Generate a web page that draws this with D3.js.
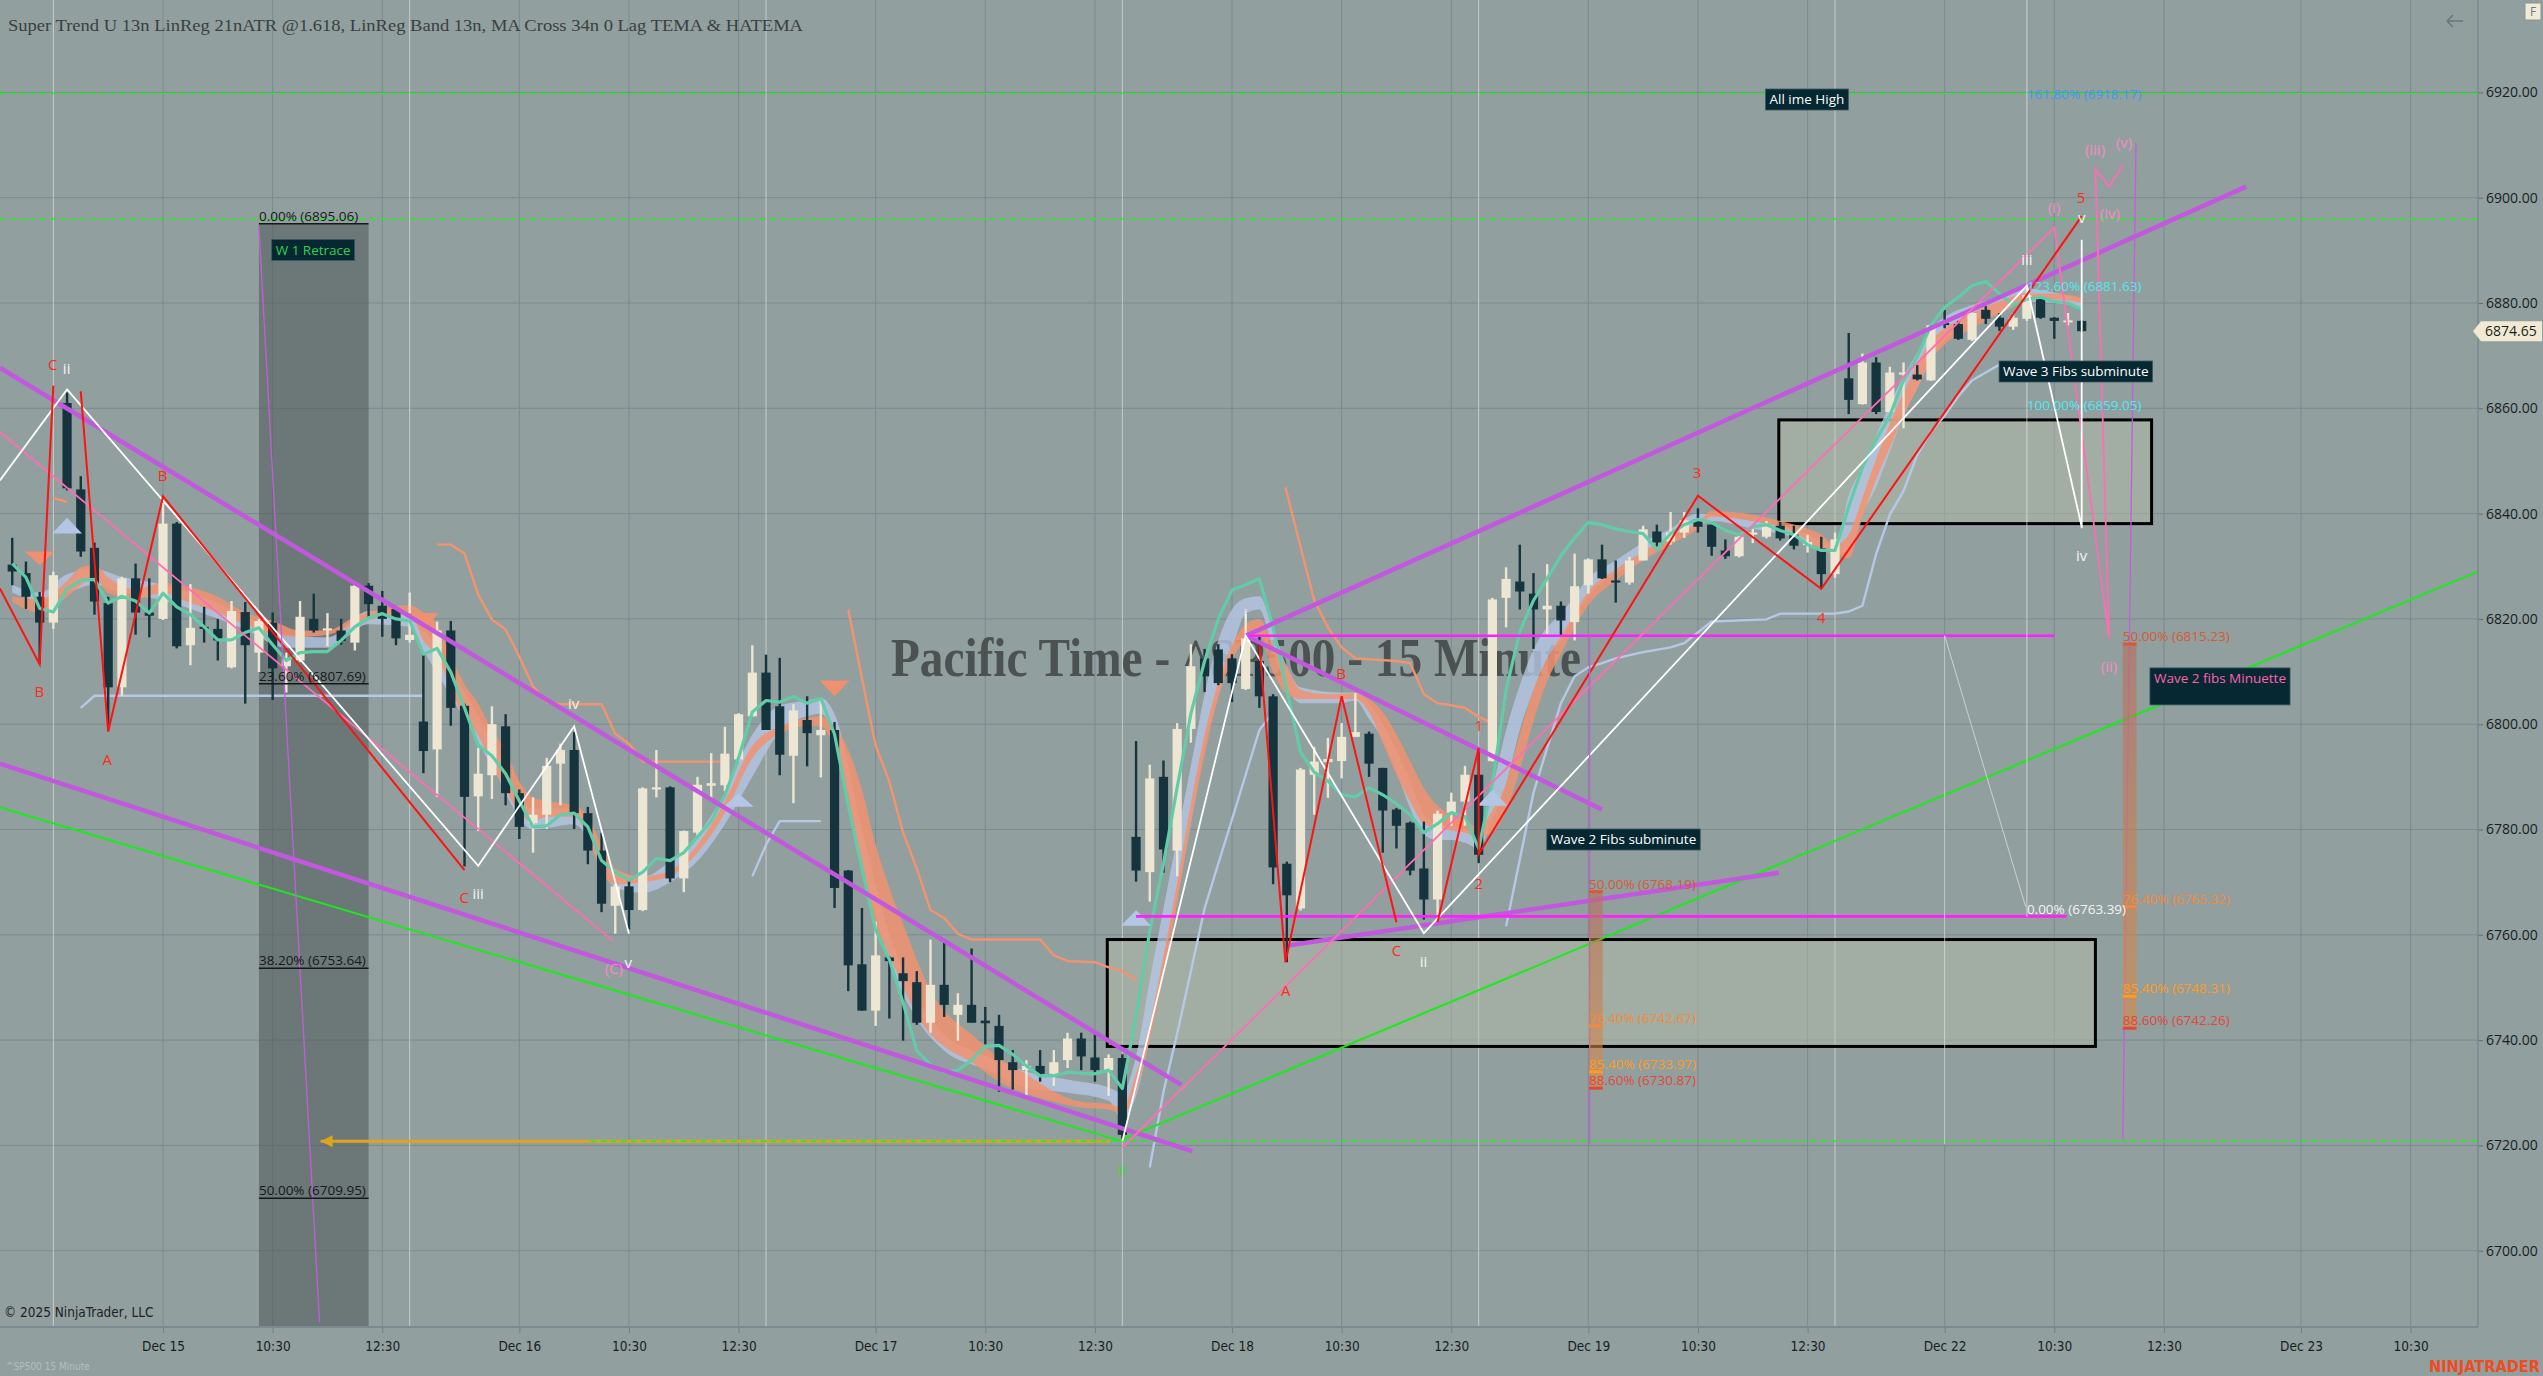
<!DOCTYPE html>
<html>
<head>
<meta charset="utf-8">
<title>^SP500 15 Minute</title>
<script src="https://cdn.jsdelivr.net/npm/d3@7"></script>
<style>
  html, body { margin: 0; padding: 0; background: #919f9e; overflow: hidden; }
  svg { display: block; }
</style>
</head>
<body>
<svg id="chart" width="2543" height="1376"></svg>
<script>
// ---- data ----
const firstBar = -11; // bar index of the first candle; Dec 15 label sits on bar 0
const opens = [6830.3,6828.7,6824.2,6819.3,6861.0,6844.6,6833.5,6823.0,6807.0,6827.7,6821.2,
  6820.0,6838.1,6815.0,6818.5,6818.1,6810.8,6821.3,6813.6,6819.3,6811.0,
  6812.1,6820.0,6817.8,6817.8,6815.5,6826.3,6822.5,6821.9,6816.0,6800.5,
  6795.2,6817.8,6803.5,6786.3,6790.3,6799.6,6786.9,6781.2,6782.8,6792.5,
  6795.1,6783.1,6776.0,6765.5,6769.2,6764.7,6787.6,6788.0,6770.7,6779.4,
  6788.3,6788.4,6793.3,6801.5,6809.8,6803.4,6794.0,6800.8,6797.9,6798.9,
  6772.2,6754.4,6745.6,6755.7,6752.7,6751.0,6743.3,6750.5,6744.8,6746.7,
  6743.7,6742.7,6735.8,6734.3,6735.1,6733.6,6736.2,6740.3,6736.7,6734.3,
  6736.6,6778.6,6771.9,6790.0,6776.0,6799.1,6812.5,6814.2,6812.5,6806.7,
  6812.0,6805.3,6773.5,6765.0,6790.4,6792.8,6793.0,6797.6,6798.2,6791.7,
  6783.8,6781.3,6772.6,6766.7,6783.2,6785.3,6790.4,6793.0,6824.0,6827.1,
  6824.8,6821.8,6822.5,6819.4,6826.4,6831.3,6827.3,6826.9,6831.1,6836.6,
  6834.7,6836.4,6838.9,6837.9,6833.0,6831.9,6836.0,6835.6,6837.7,6836.0,
  6834.0,6833.4,6828.5,6865.7,6860.8,6868.7,6859.3,6866.4,6866.4,6865.3,
  6876.2,6876.0,6873.0,6878.7,6877.2,6875.5,6877.0,6881.1,6877.2,6876.4,
  6876.6];
const highs = [6835.4,6830.9,6825.1,6829.0,6863.0,6847.1,6834.5,6824.2,6828.0,6830.5,6827.7,
  6842.0,6838.4,6826.6,6822.3,6820.0,6823.4,6823.2,6820.0,6821.2,6813.6,
  6823.4,6824.8,6821.1,6820.0,6827.0,6826.8,6825.3,6822.3,6825.0,6813.6,
  6819.5,6819.6,6803.9,6795.5,6803.4,6801.9,6787.6,6786.1,6793.6,6796.3,
  6798.5,6784.3,6779.4,6769.6,6770.7,6788.0,6795.1,6788.2,6779.8,6790.0,
  6794.5,6799.5,6802.1,6815.0,6813.2,6812.6,6803.8,6805.3,6804.9,6800.4,
  6772.3,6765.1,6762.5,6755.9,6755.7,6753.1,6759.1,6758.7,6748.9,6757.4,
  6746.3,6744.8,6738.1,6736.2,6738.1,6738.1,6741.4,6741.4,6741.4,6737.3,
  6737.3,6796.8,6792.3,6793.1,6800.2,6815.2,6814.3,6815.2,6813.3,6820.9,
  6816.8,6805.7,6773.9,6791.7,6795.7,6797.4,6800.2,6805.9,6798.6,6791.7,
  6784.1,6781.5,6781.5,6783.6,6787.0,6792.1,6795.1,6824.0,6829.8,6834.1,
  6828.7,6830.4,6823.3,6832.4,6831.5,6834.1,6831.1,6831.8,6837.7,6837.9,
  6840.3,6840.3,6841.0,6837.9,6835.1,6836.0,6837.1,6838.6,6838.4,6837.7,
  6836.0,6835.6,6836.4,6874.3,6870.4,6869.7,6867.9,6868.7,6868.2,6876.0,
  6878.7,6876.6,6878.2,6879.4,6878.1,6878.1,6883.7,6881.2,6877.3,6878.1,
  6876.7];
const lows = [6826.4,6821.9,6811.5,6818.1,6844.4,6831.8,6820.8,6799.0,6805.4,6817.0,6816.5,
  6819.8,6814.4,6811.2,6815.5,6812.1,6810.6,6803.9,6809.9,6804.6,6806.0,
  6811.8,6817.4,6814.8,6815.1,6814.0,6820.4,6816.6,6815.0,6815.5,6790.7,
  6786.2,6799.7,6773.0,6779.7,6785.8,6784.6,6778.2,6775.6,6780.1,6784.6,
  6780.1,6773.4,6764.3,6760.2,6761.0,6764.5,6786.1,6770.0,6768.1,6778.6,
  6785.8,6787.3,6792.9,6801.5,6798.9,6790.3,6785.0,6792.0,6789.9,6765.1,
  6749.3,6745.6,6742.7,6744.1,6739.9,6742.9,6741.4,6744.4,6739.9,6743.3,
  6739.2,6730.2,6730.6,6729.4,6732.1,6731.3,6734.7,6734.3,6732.1,6729.4,
  6720.8,6770.1,6766.3,6771.8,6771.1,6796.5,6806.1,6807.4,6804.2,6806.5,
  6803.1,6769.6,6754.8,6764.6,6782.8,6786.0,6789.7,6797.6,6790.0,6775.6,
  6776.4,6771.3,6762.9,6763.7,6780.7,6780.7,6773.6,6792.9,6818.4,6821.8,
  6814.3,6817.1,6816.7,6815.9,6824.8,6827.6,6823.1,6826.5,6831.1,6833.2,
  6834.1,6835.4,6836.4,6832.0,6831.4,6831.7,6834.4,6835.3,6834.9,6833.2,
  6832.6,6825.9,6827.8,6858.9,6860.7,6858.9,6859.2,6856.2,6865.3,6865.2,
  6875.2,6873.0,6872.8,6876.0,6874.7,6874.9,6876.6,6877.0,6873.2,6875.7,
  6874.5];
const closes = [6829.0,6824.2,6819.3,6828.3,6844.8,6832.8,6823.3,6807.0,6827.7,6821.2,6820.6,
  6838.1,6814.8,6818.3,6818.1,6815.9,6821.5,6815.0,6819.6,6810.6,6812.5,
  6820.4,6817.8,6818.2,6815.8,6826.3,6822.8,6820.0,6816.3,6817.0,6794.9,
  6817.8,6803.1,6786.2,6790.6,6800.0,6786.9,6780.5,6782.8,6792.1,6795.1,
  6783.1,6776.0,6765.9,6769.2,6764.7,6787.8,6788.0,6770.7,6779.7,6788.5,
  6788.8,6794.4,6801.9,6809.8,6798.9,6794.2,6802.6,6798.3,6798.9,6768.9,
  6754.2,6745.6,6756.1,6755.0,6751.2,6743.3,6750.5,6746.7,6746.7,6743.3,
  6743.2,6736.2,6734.3,6735.1,6733.6,6735.8,6740.3,6736.9,6734.3,6736.6,
  6722.0,6772.2,6789.7,6776.2,6799.1,6811.0,6809.1,6807.8,6807.8,6816.3,
  6805.3,6772.8,6767.5,6791.4,6792.9,6793.4,6797.6,6798.5,6792.5,6783.6,
  6780.7,6772.2,6766.7,6783.0,6785.3,6790.4,6775.2,6823.7,6827.6,6825.2,
  6821.8,6822.5,6819.7,6826.2,6831.3,6827.7,6826.9,6831.1,6837.0,6834.5,
  6836.4,6838.7,6837.5,6833.7,6831.9,6835.6,6836.4,6837.5,6835.3,6833.9,
  6834.6,6828.5,6835.1,6861.6,6868.7,6859.3,6866.8,6866.8,6865.5,6875.8,
  6875.8,6873.2,6878.1,6877.0,6875.5,6877.2,6881.5,6877.2,6876.6,6876.7,
  6874.65];
// MA line (teal), one value per candle
const maLine = [6830.5,6827.9,6822.0,6821.3,6825.7,6827.3,6827.5,6823.0,6824.3,6823.4,6821.1,
  6824.9,6822.3,6820.8,6818.5,6816.0,6816.0,6817.4,6818.3,6815.1,6812.1,
  6813.6,6813.8,6813.8,6815.9,6818.5,6820.2,6821.0,6820.0,6819.6,6813.3,
  6814.4,6809.9,6803.1,6796.0,6794.0,6790.6,6785.4,6780.5,6780.7,6782.8,
  6783.1,6780.5,6774.1,6771.9,6770.4,6771.9,6774.5,6774.1,6775.6,6778.6,
  6781.6,6786.5,6793.6,6802.3,6804.5,6804.2,6805.3,6804.0,6804.9,6798.1,
  6784.6,6772.6,6760.9,6755.3,6747.1,6738.0,6735.4,6733.9,6734.3,6736.2,
  6738.8,6739.0,6737.3,6735.1,6733.2,6733.2,6733.9,6733.7,6733.6,6734.3,
  6730.8,6744.6,6760.7,6773.5,6788.0,6802.0,6812.0,6820.0,6825.5,6826.5,
  6827.6,6818.4,6806.5,6794.7,6790.9,6789.2,6786.6,6786.2,6787.9,6786.6,
  6784.9,6782.8,6779.4,6781.1,6783.2,6782.4,6776.4,6788.7,6806.5,6817.6,
  6823.5,6827.7,6832.0,6835.4,6838.3,6837.9,6837.1,6836.6,6836.2,6833.2,
  6836.2,6837.9,6838.9,6838.3,6836.8,6836.0,6837.5,6837.9,6836.8,6836.0,
  6834.1,6833.0,6833.0,6841.3,6848.8,6854.0,6858.6,6865.3,6869.8,6875.8,
  6879.2,6881.1,6883.3,6884.1,6881.8,6879.6,6880.7,6881.1,6880.3,6880.0,
  6878.8];
// LinReg band [bar, upper, lower]
const linRegBand = [[-11,6826.5,6825.0],[-9,6825.0,6823.5],[-7,6828.5,6825.0],[-5,6829.5,6826.5],[-3,6828.0,6825.0],
  [0,6826.5,6823.5],[3,6824.0,6821.0],[6,6820.5,6818.0],[9,6817.0,6814.5],[12,6816.5,6814.5],[15,6821.5,6819.0],
  [18,6821.0,6818.5],[19,6818.0,6814.0],[22,6806.0,6801.0],[24,6797.0,6792.0],[27,6784.0,6780.0],[30,6784.0,6781.0],
  [33,6772.0,6769.0],[35,6771.0,6768.0],[37,6774.0,6770.0],[39,6779.0,6774.0],[41,6787.0,6781.0],[43,6798.0,6790.0],
  [45,6803.5,6798.5],[47,6804.5,6801.5],[48,6805.0,6802.0],[49,6802.0,6798.0],[51,6780.0,6774.0],[53,6760.0,6755.0],
  [55,6748.0,6744.0],[57,6741.0,6738.0],[60,6737.0,6734.5],[63,6734.0,6731.0],[66,6732.5,6730.0],[69,6731.0,6728.5],
  [70,6730.0,6725.0],[71,6737.0,6729.4],[72,6751.4,6740.4],[73,6765.0,6754.8],[74,6778.6,6767.5],[75,6792.1,6781.1],
  [76,6805.7,6795.5],[77,6815.9,6805.7],[78,6821.8,6814.2],[79,6823.9,6821.0],[80,6824.3,6821.8],[81,6818.0,6814.0],
  [82,6811.0,6807.0],[83,6807.0,6804.0],[86,6806.0,6804.0],[87,6806.0,6804.5],[88,6804.0,6801.0],[89,6800.0,6797.0],
  [90,6795.0,6791.0],[91,6789.0,6784.0],[92,6783.0,6779.0],[93,6781.0,6778.0],[94,6780.5,6778.0],[95,6780.0,6777.5],
  [96,6779.0,6776.5],[97,6787.9,6781.9],[98,6798.9,6788.7],[99,6807.4,6798.9],[100,6814.2,6806.5],[101,6818.4,6812.5],
  [102,6821.0,6815.9],[103,6824.3,6820.1],[104,6827.7,6824.3],[106,6831.1,6828.6],[108,6834.5,6831.1],[110,6837.1,6835.4],
  [112,6840.0,6837.5],[113,6839.8,6838.6],[116,6838.6,6837.1],[119,6837.0,6835.5],[121,6834.9,6833.4],[122,6833.8,6832.3],
  [123,6843.5,6833.0],[124,6848.8,6839.8],[125,6854.8,6845.0],[126,6860.8,6851.8],[127,6866.1,6858.6],[128,6870.6,6863.8],
  [129,6875.1,6869.1],[130,6877.3,6872.8],[132,6879.6,6876.6],[134,6881.1,6878.1],[136,6882.7,6880.3],[138,6882.0,6880.0],
  [140,6880.7,6879.2]];
// TEMA / HATEMA cloud [bar, upper, lower]
const temaCloud = [[-11,6824.2,6823.2],[-9,6823.8,6821.2],[-7,6827.2,6824.2],[-6,6829.8,6826.4],[-5,6830.3,6827.9],
  [-4,6827.9,6824.9],[-2,6825.6,6823.8],[0,6826.8,6824.9],[2,6826.0,6823.0],[4,6824.2,6821.2],[6,6821.2,6818.9],
  [8,6819.6,6817.0],[10,6817.8,6816.6],[12,6817.8,6817.0],[14,6820.4,6818.9],[16,6821.9,6820.4],[18,6822.6,6821.2],
  [19,6821.2,6815.9],[20,6818.9,6812.9],[21,6812.9,6806.9],[22,6807.6,6800.9],[23,6803.9,6797.9],[24,6798.9,6792.1],
  [25,6795.1,6787.6],[26,6789.1,6783.1],[27,6786.1,6781.6],[28,6785.4,6782.4],[30,6784.6,6782.4],[31,6782.4,6778.6],
  [32,6777.1,6771.9],[33,6772.6,6769.6],[35,6771.1,6770.0],[37,6772.2,6771.1],[39,6777.1,6775.6],[41,6785.4,6783.1],
  [43,6795.9,6793.6],[45,6799.6,6798.2],[47,6801.2,6799.6],[48,6801.5,6799.6],[49,6799.6,6795.1],[50,6795.1,6786.1],
  [51,6787.6,6772.6],[52,6777.1,6762.1],[53,6768.9,6756.1],[54,6762.1,6750.1],[55,6755.3,6744.8],[56,6749.3,6741.1],
  [57,6745.6,6738.8],[59,6741.1,6735.8],[61,6736.6,6732.1],[63,6733.5,6729.8],[65,6730.2,6728.3],[67,6728.3,6727.2],
  [69,6727.9,6726.8],[70,6727.2,6726.0],[71,6733.6,6730.2],[72,6743.0,6740.0],[73,6756.0,6752.0],[74,6770.0,6766.0],
  [75,6785.0,6781.0],[76,6798.0,6794.0],[77,6808.0,6805.0],[78,6815.0,6812.0],[79,6819.0,6816.0],[80,6820.0,6817.0],
  [81,6815.0,6809.9],[82,6810.8,6805.7],[83,6806.5,6804.8],[85,6805.7,6804.8],[87,6805.9,6804.8],[88,6804.8,6802.3],
  [89,6802.3,6796.4],[90,6798.1,6790.4],[91,6793.0,6785.3],[92,6787.9,6781.1],[93,6784.5,6780.3],[94,6782.8,6779.8],
  [95,6781.9,6779.4],[96,6780.3,6778.6],[97,6783.6,6779.4],[98,6788.7,6783.6],[99,6798.1,6791.3],[100,6806.5,6800.6],
  [101,6812.5,6808.2],[102,6816.7,6813.3],[103,6821.0,6818.4],[104,6825.2,6822.6],[106,6829.4,6827.3],[108,6832.8,6831.1],
  [110,6835.8,6834.1],[112,6838.3,6837.1],[113,6840.5,6839.4],[116,6839.8,6838.6],[118,6838.6,6837.5],[120,6837.1,6834.9],
  [121,6836.0,6833.0],[122,6834.1,6832.3],[123,6836.0,6831.5],[124,6843.0,6839.3],[125,6850.3,6846.5],[126,6857.0,6852.5],
  [127,6863.0,6858.6],[128,6868.3,6863.8],[129,6872.8,6869.1],[130,6875.1,6872.1],[132,6878.1,6875.1],[134,6880.3,6878.1],
  [136,6881.8,6880.3],[138,6881.8,6880.7],[140,6881.1,6880.0]];
// Super Trend legs [bar, price]
const stDown = [
  [[-8,6843.0],[-7,6842.2]],
  [[20,6834.1],[21,6834.1],[22,6832.4],[23,6824.6],[24,6819.9],[25,6818.0],[26,6812.8],[27,6807.2],[28,6804.2],[29,6803.8],[32,6803.8],[33,6798.2],[34,6796.3],[35,6792.9],[41,6792.9]],
  [[50,6821.8],[51,6808.7],[52,6795.9],[53,6789.1],[54,6779.4],[55,6772.6],[56,6764.7],[57,6763.2],[58,6760.2],[59,6759.1],[64,6759.1],[65,6756.1],[66,6755.0],[68,6754.8],[69,6753.8],[70,6753.1],[71,6751.4]],
  [[81.9,6845.0],[83,6833.7],[84,6823.5],[85,6818.4],[86,6814.6],[87,6812.5],[90,6812.0],[91,6811.6],[92,6805.7],[93,6804.0],[94,6803.6],[95,6803.1],[96,6801.4],[97,6800.2]]];
const stUp = [
  [[-6,6803.1],[-5,6805.4],[19,6805.4]],
  [[43,6771.1],[44,6777.1],[45,6781.6],[48,6781.6]],
  [[72,6715.8],[73,6730.2],[74,6741.2],[75,6753.1],[76,6765.0],[77,6773.5],[78,6781.9],[79,6790.4],[80,6798.9],[81,6802.3]],
  [[98,6761.6],[99,6774.3],[100,6787.0],[101,6795.5],[102,6804.0],[103,6809.1],[104,6810.8],[105,6811.6],[106,6812.5],[108,6813.7],[110,6814.6],[111,6815.4],[113,6819.5],[117,6819.9],[118,6821.0],[122,6821.0],[123,6821.4],[124,6822.5],[125,6832.3],[126,6839.8],[127,6844.3],[128,6851.1],[129,6855.6],[130,6858.6],[131,6862.3],[132,6865.3],[133,6866.8],[134,6868.3]]];
// signal triangles [bar, tip, base]
const upSignals = [[-7,6839.2,6836.2],[42,6786.9,6784.3],[71,6764.7,6761.7],[97,6787.5,6784.5]];
const downSignals = [[-9,6830.2,6832.8],[19,6817.4,6821.1],[49,6805.3,6808.3]];

// axis ticks
const priceTicks = [6700,6720,6740,6760,6780,6800,6820,6840,6860,6880,6900,6920];
const timeTickIdx = [0,8,16,26,34,42,52,60,68,78,86,94,104,112,120,130,138,146,156,164];
const timeTickLabels = ['Dec 15','10:30','12:30','Dec 16','10:30','12:30','Dec 17','10:30','12:30','Dec 18','10:30','12:30',
  'Dec 19','10:30','12:30','Dec 22','10:30','12:30','Dec 23','10:30'];
const sessionBreakIdx = [-8,18,44,70,96,122];
const lastPrice = 6874.65;

// drawings [bar, price]
const greenDashLevels = [6919.8, 6896.0];
const greenDashLow = [[31.2,6720.8],[175,6720.8]];
const orangeArrow = [[69.1,6720.8],[11.5,6720.8]];
const greenLines = [[[-11.9,6784.2],[69.8,6720.9]], [[69.8,6720.9],[169,6829.1]]];
const channelLines = [[[-11.9,6867.7],[74.3,6731.5]], [[-11.9,6792.5],[75.1,6718.9]], [[79,6816.8],[152,6902.1]],
  [[79,6816.8],[105,6783.8]], [[82.2,6758.0],[117.9,6771.8]]];
const magentaLevels = [[[79.2,6816.8],[138.0,6816.8]], [[71,6763.5],[138.9,6763.5]]];
const pinkLines = [[[-11.9,6855.5],[32.9,6758.7]],
  [[70,6719.6],[138,6894.3],[142,6816.3],[141,6905.5],[142,6902.1],[143,6906.2]]];
const whiteWaves = [[[-11.9,6846.3],[-7,6863.6],[23,6773.1],[30,6799.6],[34,6760.2]],
  [[70,6720.8],[79,6816.8],[92,6760.3],[136,6883.3],[140,6837.5]],
  [[140,6892.0],[140,6837.2]]];
const faintLines = [[[136,6938],[136,6763.4]], [[130,6816.8],[130,6720.2]], [[130,6816.8],[135.9,6765.4]]];
const redWaves = [[[-11.9,6825.8],[-9,6811.4],[-8,6864.3]],
  [[-6,6863.2],[-4,6798.6],[0,6843.3],[22,6772.3]],
  [[80,6815.0],[81.9,6754.8],[86,6805.3],[90,6762.4]],
  [[93,6762.4],[96,6795.5],[96,6775.3],[112,6843.4],[121,6825.7],[140,6896.5]]];
const thinPurple = [[[7.0,6894.4],[11.42,6686.4]], [[143.96,6910.4],[143.0,6721.2]], [[104.1,6816.8],[104.1,6720.1]]];
const zones = [[68.9,141.0,6759.1,6738.8], [117.9,145.1,6857.8,6838.1]];
const retraceShade = [7.0, 15.0, 6895.06];

const redLabels = [['B',-9.03,6806.1],['C',-8.05,6868.3],['A',-4.06,6793.2],['B',-0.02,6847.2],['C',21.98,6767.1],
  ['A',81.93,6749.3],['B',85.97,6809.5],['C',90.01,6756.9],['1',96.0,6799.8],['2',96.0,6769.65],['3',111.93,6847.7],
  ['4',121.0,6820.3],['5',139.96,6900.0]];
const whiteLabels = [['ii',-7.03,6867.55],['iii',23.0,6767.75],['iv',29.96,6803.8],['v',33.95,6754.7],['i',79.0,6820.9],
  ['ii',91.97,6754.8],['iii',136.0,6888.2],['iv',140.0,6831.95],['v',140.0,6896.1]];
const greenLabels = [['ii',69.95,6715.4]];
const pinkLabels = [['(C)',32.9,6753.5],['(i)',137.98,6898.0],['(ii)',141.99,6811.0],['(iii)',140.97,6909.2],
  ['(iv)',142.06,6896.9],['(v)',143.09,6910.4]];

const w1Pct = ['0.00%','23.60%','38.20%','50.00%'];
const w1Levels = [6895.06, 6807.69, 6753.64, 6709.95];
const w3Pct = ['161.80%','123.60%','100.00%'];
const w3Levels = [6918.17, 6881.63, 6859.05];
const w2Pct = ['50.00%','76.40%','85.40%','88.60%'];
const w2Levels = [6768.19, 6742.67, 6733.97, 6730.87];
const minuettePct = ['50.00%','76.40%','85.40%','88.60%'];
const minuetteLevels = [6815.23, 6765.32, 6748.31, 6742.26];
const zeroLevel = 6763.39;

const noteBoxes = [['W 1 Retrace',7.93,6890.07],['All ime High',116.93,6918.65],['Wave 3 Fibs subminute',133.97,6866.99],
  ['Wave 2 Fibs subminute',100.97,6778.1],['Wave 2 fibs Minuette',144.98,6808.7]];
const noteColors = ['#2fd14c','#ffffff','#ffffff','#ffffff','#ff62ac'];

// ---- layout ----
const W = 2543, H = 1376, plotRight = 2478, plotBottom = 1327;
const x = d3.scaleLinear().domain([0, 100]).range([163, 163 + 1370.5]);
const y = d3.scaleLinear().domain([6920, 6700]).range([92.4, 1250.7]);
const bars = d3.range(opens.length).map(k => ({
  i: firstBar + k, o: opens[k], h: highs[k], l: lows[k], c: closes[k], ma: maLine[k]
}));
const sans = '"Open Sans", "Noto Sans", sans-serif';
const narrow = '"Liberation Sans Narrow", "DejaVu Sans Condensed", "Roboto", sans-serif';

const svg = d3.select('#chart');
svg.append('rect').attr('width', W).attr('height', H).attr('fill', '#919f9e');
const defs = svg.append('defs');
defs.append('clipPath').attr('id', 'plot').append('rect').attr('width', plotRight).attr('height', plotBottom);
const grad = defs.append('linearGradient').attr('id', 'fibbar').attr('x1', 0).attr('x2', 0).attr('y1', 0).attr('y2', 1);
grad.append('stop').attr('offset', '0%').attr('stop-color', '#b86e5c');
grad.append('stop').attr('offset', '100%').attr('stop-color', '#d98c45');

const plot = svg.append('g').attr('clip-path', 'url(#plot)');
const path = d3.line().x(d => x(d[0])).y(d => y(d[1]));

// grid
plot.selectAll('.hg').data(priceTicks).enter().append('line')
  .attr('x1', 0).attr('x2', plotRight).attr('y1', d => y(d)).attr('y2', d => y(d))
  .attr('stroke', '#7a8b91').attr('stroke-width', 1);
plot.selectAll('.vg').data(timeTickIdx).enter().append('line')
  .attr('x1', d => x(d)).attr('x2', d => x(d)).attr('y1', 0).attr('y2', plotBottom)
  .attr('stroke', '#7a8b91').attr('stroke-width', 1);
plot.selectAll('.sb').data(sessionBreakIdx).enter().append('line')
  .attr('x1', d => x(d)).attr('x2', d => x(d)).attr('y1', 0).attr('y2', plotBottom)
  .attr('stroke', '#d3d9d7').attr('stroke-width', 1).attr('opacity', 0.8);

// watermark
plot.append('text').attr('x', 1236).attr('y', 676).attr('text-anchor', 'middle')
  .attr('font-family', '"Liberation Serif", "DejaVu Serif", serif').attr('font-weight', 'bold')
  .attr('font-size', 54).attr('fill', '#424847').attr('opacity', 0.88)
  .attr('textLength', 690).attr('lengthAdjust', 'spacingAndGlyphs')
  .text('Pacific Time - ^SP500 - 15 Minute');

// W1 retrace shading and demand zones
plot.append('rect').attr('x', x(retraceShade[0])).attr('width', x(retraceShade[1]) - x(retraceShade[0]))
  .attr('y', y(retraceShade[2])).attr('height', plotBottom - y(retraceShade[2]))
  .attr('fill', '#4e5857').attr('opacity', 0.55);
plot.selectAll('.zone').data(zones).enter().append('rect')
  .attr('x', d => x(d[0])).attr('width', d => x(d[1]) - x(d[0]))
  .attr('y', d => y(d[2])).attr('height', d => y(d[3]) - y(d[2]))
  .attr('fill', '#b8c0a8').attr('fill-opacity', 0.45).attr('stroke', '#000').attr('stroke-width', 3);

// bands
plot.append('path').datum(linRegBand)
  .attr('d', d3.area().x(d => x(d[0])).y0(d => y(d[2])).y1(d => y(d[1])).curve(d3.curveMonotoneX))
  .attr('fill', '#b5c6e4').attr('opacity', 0.8);
plot.append('path').datum(temaCloud)
  .attr('d', d3.area().x(d => x(d[0])).y0(d => y(d[2])).y1(d => y(d[1])).curve(d3.curveMonotoneX))
  .attr('fill', '#f2926f').attr('opacity', 0.85);

// super trend
plot.selectAll('.std').data(stDown).enter().append('path').attr('d', path)
  .attr('fill', 'none').attr('stroke', '#f3936f').attr('stroke-width', 2.4);
plot.selectAll('.stu').data(stUp).enter().append('path').attr('d', path)
  .attr('fill', 'none').attr('stroke', '#b7c8e6').attr('stroke-width', 2.4);

// candles
const bull = '#ece6d3', bear = '#15343e';
const cg = plot.append('g');
cg.selectAll('.wick').data(bars).enter().append('line')
  .attr('x1', d => x(d.i)).attr('x2', d => x(d.i)).attr('y1', d => y(d.h)).attr('y2', d => y(d.l))
  .attr('stroke', d => d.c >= d.o ? bull : bear).attr('stroke-width', 2.4);
cg.selectAll('.body').data(bars).enter().append('rect')
  .attr('x', d => x(d.i) - 4.6).attr('width', 9.2)
  .attr('y', d => y(Math.max(d.o, d.c)))
  .attr('height', d => Math.max(2, Math.abs(y(d.o) - y(d.c))))
  .attr('fill', d => d.c >= d.o ? bull : bear);

// MA line
plot.append('path').datum(bars)
  .attr('d', d3.line().x(d => x(d.i)).y(d => y(d.ma)))
  .attr('fill', 'none').attr('stroke', '#62cca8').attr('stroke-width', 3.2).attr('stroke-linejoin', 'round');

// signal triangles
plot.selectAll('.up').data(upSignals).enter().append('path')
  .attr('d', d => `M${x(d[0])},${y(d[1])}L${x(d[0]) + 15},${y(d[2])}L${x(d[0]) - 15},${y(d[2])}Z`)
  .attr('fill', '#b4c6e6');
plot.selectAll('.dn').data(downSignals).enter().append('path')
  .attr('d', d => `M${x(d[0])},${y(d[1])}L${x(d[0]) + 15},${y(d[2])}L${x(d[0]) - 15},${y(d[2])}Z`)
  .attr('fill', '#ef9070');

// drawings
plot.selectAll('.gdash').data(greenDashLevels).enter().append('line')
  .attr('x1', 0).attr('x2', plotRight).attr('y1', d => y(d)).attr('y2', d => y(d))
  .attr('stroke', '#22ee22').attr('stroke-width', 1.6).attr('stroke-dasharray', '6,4');
plot.append('path').datum(orangeArrow).attr('d', path)
  .attr('stroke', '#e0a41c').attr('stroke-width', 3).attr('fill', 'none');
plot.append('path')
  .attr('d', `M${x(orangeArrow[1][0])},${y(orangeArrow[1][1])}l12,-6l0,12z`)
  .attr('fill', '#e0a41c');
plot.append('path').datum(greenDashLow).attr('d', path)
  .attr('stroke', '#22ee22').attr('stroke-width', 1.6).attr('stroke-dasharray', '6,4').attr('fill', 'none');
plot.selectAll('.gl').data(greenLines).enter().append('path').attr('d', path)
  .attr('stroke', '#18ec18').attr('stroke-width', 2).attr('fill', 'none');
plot.selectAll('.ch').data(channelLines).enter().append('path').attr('d', path)
  .attr('stroke', '#c158de').attr('stroke-width', 4.5).attr('fill', 'none');
plot.selectAll('.mg').data(magentaLevels).enter().append('path').attr('d', path)
  .attr('stroke', '#ff1fff').attr('stroke-width', 2.6).attr('fill', 'none');
plot.selectAll('.pk').data(pinkLines).enter().append('path').attr('d', path)
  .attr('stroke', '#ff6db4').attr('stroke-width', 1.8).attr('fill', 'none');
plot.selectAll('.fl').data(faintLines).enter().append('path').attr('d', path)
  .attr('stroke', '#e4e8e6').attr('stroke-width', 1).attr('opacity', 0.7).attr('fill', 'none');
plot.selectAll('.ww').data(whiteWaves).enter().append('path').attr('d', path)
  .attr('stroke', '#ffffff').attr('stroke-width', 1.8).attr('fill', 'none');
plot.selectAll('.rw').data(redWaves).enter().append('path').attr('d', path)
  .attr('stroke', '#ff1212').attr('stroke-width', 2).attr('fill', 'none');
plot.selectAll('.tp').data(thinPurple).enter().append('path').attr('d', path)
  .attr('stroke', '#c25fd8').attr('stroke-width', 1.3).attr('fill', 'none');

// wave labels
function waveText(list, color) {
  plot.selectAll(null).data(list).enter().append('text')
    .attr('x', d => x(d[1])).attr('y', d => y(d[2])).attr('dy', '0.35em')
    .attr('text-anchor', 'middle').attr('font-family', sans).attr('font-size', 15)
    .attr('fill', color).text(d => d[0]);
}
waveText(redLabels, '#ff2a1a');
waveText(whiteLabels, '#f4f4f4');
waveText(greenLabels, '#2ee02e');
waveText(pinkLabels, '#f58cc4');

// fib retracement labels
function fibText(pcts, levels, bar, colors, underline) {
  const g = plot.append('g');
  pcts.forEach((p, k) => {
    const col = Array.isArray(colors) ? colors[k] : colors;
    if (underline) {
      g.append('line').attr('x1', x(bar)).attr('x2', x(bar + underline)).attr('y1', y(levels[k])).attr('y2', y(levels[k]))
        .attr('stroke', col).attr('stroke-width', underline > 2 ? 1.6 : 3);
    }
    g.append('text').attr('x', x(bar)).attr('y', y(levels[k]) - 3)
      .attr('font-family', sans).attr('font-size', 13.5).attr('fill', col)
      .text(`${p} (${levels[k].toFixed(2)})`);
  });
}
const fibWarm = ['#d65a36', '#f38a3b', '#ff9b22', '#e2473a'];
plot.append('rect').attr('x', x(104.05)).attr('width', x(105.05) - x(104.05))
  .attr('y', y(w2Levels[0])).attr('height', y(w2Levels[3]) - y(w2Levels[0]))
  .attr('fill', 'url(#fibbar)').attr('opacity', 0.6);
plot.append('rect').attr('x', x(143.0)).attr('width', x(144.0) - x(143.0))
  .attr('y', y(minuetteLevels[0])).attr('height', y(minuetteLevels[3]) - y(minuetteLevels[0]))
  .attr('fill', 'url(#fibbar)').attr('opacity', 0.6);
fibText(w1Pct, w1Levels, 7.0, '#15191b', 8);
fibText(w3Pct, w3Levels, 136.0, ['#3b9bf2', '#52e8f0', '#52e8f0'], 0);
fibText(w2Pct, w2Levels, 104.05, fibWarm, 1);
fibText(minuettePct, minuetteLevels, 143.0, fibWarm, 1);
fibText(['0.00%'], [zeroLevel], 136.0, '#f4f4f4', 0);

// note boxes
noteBoxes.forEach((b, k) => {
  const g = plot.append('g');
  const bx = x(b[1]), by = y(b[2]);
  const r = g.append('rect').attr('fill', '#062833').attr('stroke', '#3e5860').attr('stroke-width', 0.8);
  const t = g.append('text').attr('x', bx + 4).attr('y', by).attr('dy', '0.36em')
    .attr('font-family', sans).attr('font-size', 13.5).attr('fill', noteColors[k]).text(b[0]);
  const wdt = t.node().getComputedTextLength();
  const extra = b[0] === 'Wave 2 fibs Minuette' ? 16 : 0;
  r.attr('x', bx).attr('y', by - 10.5).attr('width', wdt + 8).attr('height', 21 + extra);
});

// ---- axes ----
const yAxis = svg.append('g').attr('transform', `translate(${plotRight},0)`)
  .call(d3.axisRight(y).tickValues(priceTicks).tickFormat(d3.format('.2f')).tickSize(5).tickPadding(3));
yAxis.select('.domain').remove();
yAxis.selectAll('line').attr('stroke', '#5f6f75');
yAxis.selectAll('text').attr('font-family', sans).attr('font-size', 14).attr('fill', '#1a1e21');

const xAxis = svg.append('g').attr('transform', `translate(0,${plotBottom})`)
  .call(d3.axisBottom(x).tickValues(timeTickIdx).tickFormat((d, k) => timeTickLabels[k]).tickSize(6).tickPadding(8));
xAxis.select('.domain').remove();
xAxis.selectAll('line').attr('stroke', '#6f7f85');
xAxis.selectAll('text').attr('font-family', narrow).attr('font-size', 13.5).attr('fill', '#1a1e21');

svg.append('line').attr('x1', 0).attr('x2', plotRight).attr('y1', plotBottom).attr('y2', plotBottom)
  .attr('stroke', '#7a8a90').attr('stroke-width', 2);
svg.append('line').attr('x1', plotRight).attr('x2', plotRight).attr('y1', 0).attr('y2', plotBottom)
  .attr('stroke', '#7a8a90').attr('stroke-width', 1.5);

// last price marker
const ly = y(lastPrice);
svg.append('path').attr('d', `M${plotRight - 5},${ly}L${plotRight + 3},${ly - 10}H${W - 1}V${ly + 10}H${plotRight + 3}Z`)
  .attr('fill', '#f1e9d3');
svg.append('text').attr('x', plotRight + 7).attr('y', ly).attr('dy', '0.36em')
  .attr('font-family', sans).attr('font-size', 14).attr('fill', '#1a1e21').text(d3.format('.2f')(lastPrice));

// chrome: title, copyright, logo, buttons
svg.append('text').attr('x', 8).attr('y', 31).attr('font-family', '"Liberation Serif", "DejaVu Serif", serif')
  .attr('font-size', 17).attr('fill', '#3a3f41').attr('textLength', 795).attr('lengthAdjust', 'spacingAndGlyphs')
  .text('Super Trend U 13n LinReg 21nATR @1.618, LinReg Band 13n, MA Cross 34n 0 Lag TEMA & HATEMA');
svg.append('text').attr('x', 4).attr('y', 1317).attr('font-family', narrow).attr('font-size', 13.5)
  .attr('fill', '#1d2225').text('© 2025 NinjaTrader, LLC');
svg.append('text').attr('x', 6).attr('y', 1370).attr('font-family', narrow).attr('font-size', 10)
  .attr('fill', '#b6bfbf').text('^SP500 15 Minute');
svg.append('text').attr('x', W - 3).attr('y', 1372).attr('text-anchor', 'end').attr('font-family', narrow)
  .attr('font-weight', 'bold').attr('font-size', 16).attr('fill', '#f24a22').attr('textLength', 111)
  .attr('lengthAdjust', 'spacingAndGlyphs').text('NINJATRADER');
svg.append('rect').attr('x', 2525).attr('y', 3).attr('width', 16).attr('height', 17)
  .attr('fill', '#f1ead6').attr('stroke', '#8a969a');
svg.append('text').attr('x', 2533).attr('y', 16).attr('text-anchor', 'middle').attr('font-family', sans)
  .attr('font-size', 12).attr('fill', '#6c7a80').text('F');
svg.append('path').attr('d', 'M2463,21H2447M2447,21l6,-6M2447,21l6,6')
  .attr('stroke', '#66787e').attr('stroke-width', 1.6).attr('fill', 'none');
</script>
</body>
</html>
